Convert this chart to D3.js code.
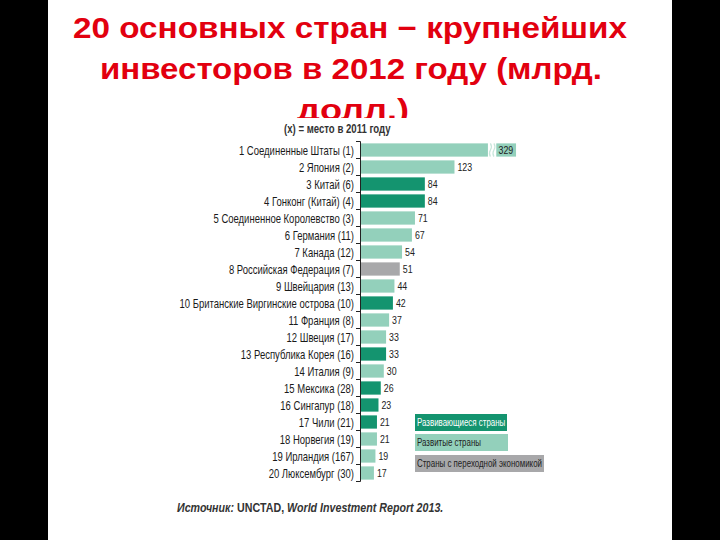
<!DOCTYPE html>
<html><head><meta charset="utf-8">
<script src="https://cdn.jsdelivr.net/npm/d3@7"></script>
<style>html,body{margin:0;padding:0;background:#000;}svg{display:block;}</style>
</head><body>
<script>
const titleLines = ["20 основных стран − крупнейших", "инвесторов в 2012 году (млрд.", "долл.)"];
const subtitle = "(x) = место в 2011 году";
const countries = ["1 Соединенные Штаты (1)","2 Япония (2)","3 Китай (6)","4 Гонконг (Китай) (4)","5 Соединенное Королевство (3)","6 Германия (11)","7 Канада (12)","8 Российская Федерация (7)","9 Швейцария (13)","10 Британские Виргинские острова (10)","11 Франция (8)","12 Швеция (17)","13 Республика Корея (16)","14 Италия (9)","15 Мексика (28)","16 Сингапур (18)","17 Чили (21)","18 Норвегия (19)","19 Ирландия (167)","20 Люксембург (30)"];
const values = [329,123,84,84,71,67,54,51,44,42,37,33,33,30,26,23,21,21,19,17];
const groups = ["dev","dev","ing","ing","dev","dev","dev","tr","dev","ing","dev","dev","ing","dev","ing","ing","ing","dev","dev","dev"];
const legendKeys = ["ing","dev","tr"];
const legendLabels = ["Развивающиеся страны","Развитые страны","Страны с переходной экономикой"];
const breakValue = 167;   // US bar is drawn with an axis break
const source = ["Источник: ", "UNCTAD, ", "World Investment Report 2013."];

const W = 720, H = 540;
const svg = d3.select("body").append("svg").attr("width", W).attr("height", H);
svg.append("rect").attr("x",48).attr("y",0).attr("width",624).attr("height",H).attr("fill","#fff");

// title
const tY = [38, 79, 120];
const tCx = [350, 351, 353];
const tLen = [554, 502, 112];
titleLines.forEach((t,i)=>{
  svg.append("text").attr("x",tCx[i]).attr("y",tY[i]).attr("text-anchor","middle")
    .attr("font-family","Liberation Sans, Arial, sans-serif").attr("font-weight","bold")
    .attr("font-size",29).attr("fill","#e2000f")
    .attr("textLength",tLen[i]).attr("lengthAdjust","spacingAndGlyphs").text(t);
});
// chart picture covers the bottom of the title
svg.append("rect").attr("x",160).attr("y",118).attr("width",400).attr("height",408).attr("fill","#fff");

const color = d3.scaleOrdinal().domain(legendKeys).range(["#14946f","#93d0bb","#a8a8aa"]);
const x = d3.scaleLinear().domain([0,100]).range([361, 361+76]);
const axTop = 141.5, axBot = 481.5;
const y = d3.scaleBand().domain(countries).range([axTop, axBot]).paddingInner(0.22).paddingOuter(0.11);

const sans = "Liberation Sans, Arial, sans-serif";

svg.append("text").attr("transform","translate(284,133) scale(0.8,1)").attr("font-family",sans).attr("font-weight","bold")
  .attr("font-size",12).attr("fill","#333").text(subtitle);

// bars
const g = svg.append("g");
countries.forEach((c,i)=>{
  const v = values[i];
  const yy = y(c), bh = y.bandwidth();
  const cy = yy + bh/2;
  if (v > breakValue) {
    g.append("rect").attr("x",x(0)).attr("y",yy).attr("width",x(breakValue)-x(0)).attr("height",bh).attr("fill",color(groups[i]));
    g.append("rect").attr("x",x(breakValue+11)).attr("y",yy).attr("width",x(breakValue+37)-x(breakValue+11)).attr("height",bh).attr("fill",color(groups[i]));
    [x(breakValue)+2.5, x(breakValue)+6].forEach(bx=>{
      g.append("path").attr("d",`M${bx},${yy} q2,${bh/4} 0,${bh/2} q-2,${bh/4} 0,${bh/2}`)
        .attr("fill","none").attr("stroke","#c8e6db").attr("stroke-width",1.2);
    });
    g.append("text").attr("transform",`translate(${x(breakValue+14)},${cy}) scale(0.8,1)`).attr("dy","0.35em")
      .attr("font-family",sans).attr("font-size",11).attr("fill","#222").text(v);
  } else {
    g.append("rect").attr("x",x(0)).attr("y",yy).attr("width",x(v)-x(0)).attr("height",bh).attr("fill",color(groups[i]));
    g.append("text").attr("transform",`translate(${x(v)+3},${cy}) scale(0.8,1)`).attr("dy","0.35em")
      .attr("font-family",sans).attr("font-size",11).attr("fill","#222").text(v);
  }
  g.append("text").attr("transform",`translate(354,${cy}) scale(0.73,1)`).attr("dy","0.36em")
    .attr("text-anchor","end").attr("font-family",sans)
    .attr("font-size",13).attr("fill","#1a1a1a").text(c);
});

// axis line with ticks
const ax = svg.append("g").attr("stroke","#222").attr("stroke-width",1);
ax.append("line").attr("x1",360.5).attr("x2",360.5).attr("y1",axTop).attr("y2",axBot);
d3.range(countries.length+1).forEach(k=>{
  const yy = axTop + k*(axBot-axTop)/countries.length;
  ax.append("line").attr("x1",356).attr("x2",360.5).attr("y1",yy).attr("y2",yy);
});

// legend
const lx = 415, ly = [414, 434, 455], lw = [92, 93, 129], lh = 17;
legendKeys.forEach((k,i)=>{
  svg.append("rect").attr("x",lx).attr("y",ly[i]).attr("width",lw[i]).attr("height",lh).attr("fill",color(k));
  svg.append("text").attr("transform",`translate(${lx+2},${ly[i]+lh/2}) scale(0.72,1)`).attr("dy","0.35em")
    .attr("font-family",sans).attr("font-size",11)
    .attr("fill", i===0 ? "#fff" : "#222").text(legendLabels[i]);
});

// source
const st = svg.append("text").attr("font-family",sans)
  .attr("font-size",13.5).attr("fill","#333").attr("transform","translate(177,512) scale(0.79,1)");
st.append("tspan").attr("font-style","italic").attr("font-weight","bold").text(source[0]);
st.append("tspan").attr("font-weight","bold").text(source[1]);
st.append("tspan").attr("font-style","italic").attr("font-weight","bold").text(source[2]);
</script>
</body></html>
